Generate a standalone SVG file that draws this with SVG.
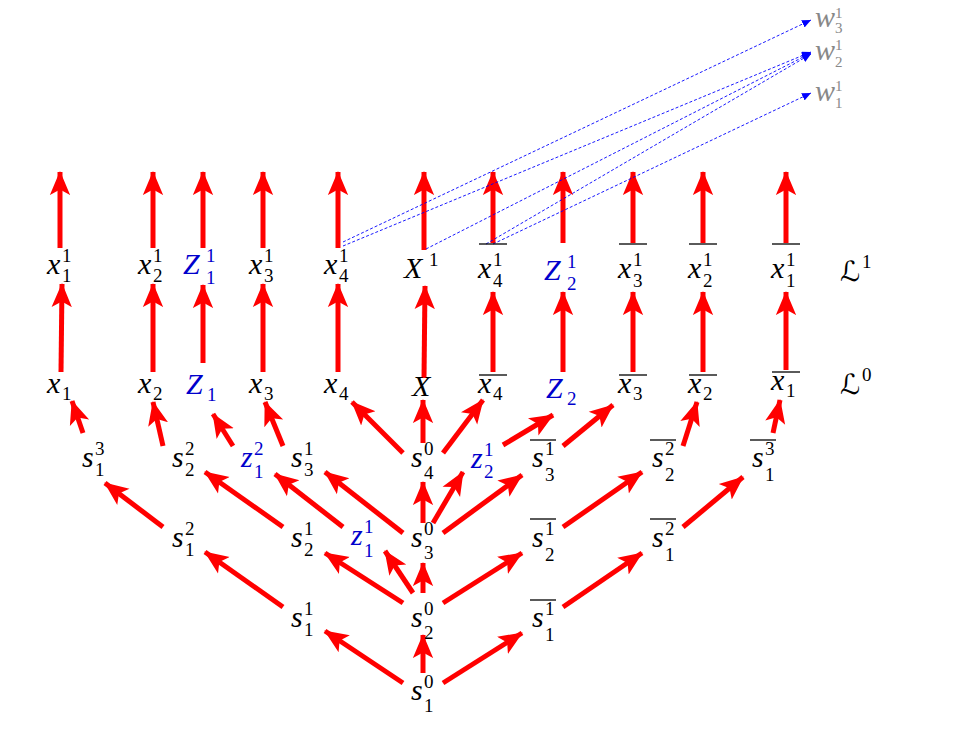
<svg xmlns="http://www.w3.org/2000/svg" width="975" height="737" viewBox="0 0 975 737">
<style>
.m{font-family:"Liberation Serif",serif;font-style:italic;font-size:30px;fill:#000}
.s{font-family:"Liberation Serif",serif;font-size:19px;fill:#000}
.L{font-family:"DejaVu Serif","DejaVu Sans",serif;font-style:italic;font-size:28px;fill:#000}
.ws{font-size:15px}
.b{fill:#0000cc}
.g{fill:#888}
.bar{stroke:#000;stroke-width:1.3}
.r{stroke:#f00;stroke-width:5;fill:none;marker-end:url(#ah)}
.d{stroke:#0000ff;stroke-width:0.9;stroke-dasharray:3,2;fill:none;marker-end:url(#dh)}
</style>
<defs>
<marker id="ah" markerUnits="userSpaceOnUse" markerWidth="24" markerHeight="26" refX="25" refY="11" orient="auto" viewBox="0 0 26 22"><path d="M0,0 L26,11 L0,22 L6,11 Z" fill="#f00"/></marker>
<marker id="dh" markerUnits="userSpaceOnUse" markerWidth="9" markerHeight="8" refX="9" refY="4" orient="auto" viewBox="0 0 9 8"><path d="M0,0 L9,4 L0,8 Z" fill="#0000ff"/></marker>
</defs>
<g id="connectors">
<line class="r" x1="60" y1="248" x2="60" y2="172"/>
<line class="r" x1="153" y1="248" x2="153" y2="172"/>
<line class="r" x1="203" y1="248" x2="203" y2="172"/>
<line class="r" x1="263" y1="248" x2="263" y2="172"/>
<line class="r" x1="338" y1="248" x2="338" y2="172"/>
<line class="r" x1="424" y1="250" x2="424" y2="172"/>
<line class="r" x1="493" y1="243" x2="493" y2="172"/>
<line class="r" x1="563" y1="243" x2="563" y2="172"/>
<line class="r" x1="633" y1="243" x2="633" y2="172"/>
<line class="r" x1="703" y1="243" x2="703" y2="172"/>
<line class="r" x1="786" y1="243" x2="786" y2="172"/>
<line class="r" x1="61" y1="372" x2="62" y2="284"/>
<line class="r" x1="153" y1="372" x2="153" y2="284"/>
<line class="r" x1="203" y1="363" x2="203" y2="285"/>
<line class="r" x1="263" y1="372" x2="263" y2="284"/>
<line class="r" x1="338" y1="372" x2="338" y2="284"/>
<line class="r" x1="424" y1="378" x2="425" y2="286"/>
<line class="r" x1="493" y1="372" x2="493" y2="292"/>
<line class="r" x1="563" y1="372" x2="563" y2="292"/>
<line class="r" x1="633" y1="372" x2="633" y2="292"/>
<line class="r" x1="703" y1="372" x2="703" y2="292"/>
<line class="r" x1="786" y1="370" x2="786" y2="292"/>
<line class="r" x1="83" y1="433" x2="72" y2="401"/>
<line class="r" x1="163" y1="446" x2="153" y2="402"/>
<line class="r" x1="233" y1="446" x2="213" y2="414"/>
<line class="r" x1="283" y1="446" x2="265" y2="402"/>
<line class="r" x1="403" y1="453" x2="352" y2="402"/>
<line class="r" x1="423" y1="443" x2="423" y2="400"/>
<line class="r" x1="443" y1="453" x2="483" y2="400"/>
<line class="r" x1="503" y1="445" x2="553" y2="415"/>
<line class="r" x1="563" y1="446" x2="613" y2="405"/>
<line class="r" x1="683" y1="446" x2="697" y2="402"/>
<line class="r" x1="773" y1="433" x2="780" y2="400"/>
<line class="r" x1="163" y1="527" x2="105" y2="483"/>
<line class="r" x1="283" y1="527" x2="205" y2="472"/>
<line class="r" x1="343" y1="527" x2="275" y2="474"/>
<line class="r" x1="403" y1="533" x2="325" y2="472"/>
<line class="r" x1="423" y1="523" x2="423" y2="482"/>
<line class="r" x1="433" y1="523" x2="463" y2="472"/>
<line class="r" x1="443" y1="533" x2="522" y2="475"/>
<line class="r" x1="563" y1="527" x2="642" y2="472"/>
<line class="r" x1="683" y1="527" x2="743" y2="477"/>
<line class="r" x1="283" y1="607" x2="205" y2="552"/>
<line class="r" x1="403" y1="603" x2="325" y2="553"/>
<line class="r" x1="413" y1="593" x2="385" y2="551"/>
<line class="r" x1="423" y1="593" x2="423" y2="563"/>
<line class="r" x1="443" y1="603" x2="522" y2="553"/>
<line class="r" x1="563" y1="607" x2="642" y2="553"/>
<line class="r" x1="403" y1="683" x2="325" y2="631"/>
<line class="r" x1="423" y1="673" x2="423" y2="635"/>
<line class="r" x1="443" y1="683" x2="522" y2="633"/>
<line class="d" x1="343" y1="242" x2="811" y2="20"/>
<line class="d" x1="343" y1="246" x2="811" y2="52"/>
<line class="d" x1="426" y1="249" x2="811" y2="53"/>
<line class="d" x1="486" y1="244" x2="811" y2="54"/>
<line class="d" x1="493" y1="244" x2="811" y2="93"/>
</g>
<g id="w3"><text class="m g" x="815" y="27">w</text><text class="s ws g" x="835" y="18">1</text><text class="s ws g" x="835" y="33">3</text></g>
<g id="w2"><text class="m g" x="815" y="60">w</text><text class="s ws g" x="835" y="50">1</text><text class="s ws g" x="835" y="67">2</text></g>
<g id="w1"><text class="m g" x="815" y="101">w</text><text class="s ws g" x="835" y="91">1</text><text class="s ws g" x="835" y="108">1</text></g>
<g id="x11"><text class="m" x="47" y="274">x</text><text class="s" x="62" y="262">1</text><text class="s" x="62" y="282">1</text></g>
<g id="x21"><text class="m" x="138" y="274">x</text><text class="s" x="153" y="262">1</text><text class="s" x="153" y="282">2</text></g>
<g id="Z11"><text class="m b" x="183" y="274">Z</text><text class="s b" x="206" y="262">1</text><text class="s b" x="206" y="284">1</text></g>
<g id="x31"><text class="m" x="249" y="274">x</text><text class="s" x="264" y="262">1</text><text class="s" x="264" y="282">3</text></g>
<g id="x41"><text class="m" x="324" y="274">x</text><text class="s" x="339" y="262">1</text><text class="s" x="339" y="282">4</text></g>
<g id="X1"><text class="m" x="404" y="278">X</text><text class="s" x="429" y="266">1</text></g>
<g id="bx41"><line class="bar" x1="479" y1="244" x2="507" y2="244"/><text class="m" x="478" y="278">x</text><text class="s" x="493" y="266">1</text><text class="s" x="493" y="287">4</text></g>
<g id="Z21"><text class="m b" x="544" y="280">Z</text><text class="s b" x="567" y="268">1</text><text class="s b" x="567" y="290">2</text></g>
<g id="bx31"><line class="bar" x1="619" y1="244" x2="647" y2="244"/><text class="m" x="618" y="278">x</text><text class="s" x="633" y="266">1</text><text class="s" x="633" y="287">3</text></g>
<g id="bx21"><line class="bar" x1="689" y1="244" x2="717" y2="244"/><text class="m" x="688" y="278">x</text><text class="s" x="703" y="266">1</text><text class="s" x="703" y="287">2</text></g>
<g id="bx11"><line class="bar" x1="772" y1="244" x2="800" y2="244"/><text class="m" x="771" y="278">x</text><text class="s" x="786" y="266">1</text><text class="s" x="786" y="287">1</text></g>
<g id="L1"><text class="L" x="840" y="281">ℒ</text><text class="s" x="862" y="268">1</text></g>
<g id="x1"><text class="m" x="47" y="393">x</text><text class="s" x="62" y="400">1</text></g>
<g id="x2"><text class="m" x="138" y="393">x</text><text class="s" x="153" y="400">2</text></g>
<g id="Z1"><text class="m b" x="186" y="394">Z</text><text class="s b" x="207" y="401">1</text></g>
<g id="x3"><text class="m" x="249" y="393">x</text><text class="s" x="264" y="400">3</text></g>
<g id="x4"><text class="m" x="324" y="393">x</text><text class="s" x="339" y="400">4</text></g>
<g id="X"><text class="m" x="412" y="396">X</text></g>
<g id="bx4"><line class="bar" x1="479" y1="375" x2="507" y2="375"/><text class="m" x="478" y="393">x</text><text class="s" x="493" y="400">4</text></g>
<g id="Z2"><text class="m b" x="546" y="398">Z</text><text class="s b" x="567" y="405">2</text></g>
<g id="bx3"><line class="bar" x1="619" y1="375" x2="647" y2="375"/><text class="m" x="618" y="393">x</text><text class="s" x="633" y="400">3</text></g>
<g id="bx2"><line class="bar" x1="689" y1="375" x2="717" y2="375"/><text class="m" x="688" y="393">x</text><text class="s" x="703" y="400">2</text></g>
<g id="bx1"><line class="bar" x1="772" y1="372" x2="800" y2="372"/><text class="m" x="771" y="390">x</text><text class="s" x="786" y="397">1</text></g>
<g id="L0"><text class="L" x="840" y="394">ℒ</text><text class="s" x="862" y="381">0</text></g>
<g id="s13"><text class="m" x="82" y="467">s</text><text class="s" x="95" y="455">3</text><text class="s" x="95" y="476">1</text></g>
<g id="s22"><text class="m" x="172" y="467">s</text><text class="s" x="185" y="455">2</text><text class="s" x="185" y="476">2</text></g>
<g id="z12"><text class="m b" x="241" y="467">z</text><text class="s b" x="254" y="455">2</text><text class="s b" x="254" y="478">1</text></g>
<g id="s31"><text class="m" x="291" y="467">s</text><text class="s" x="304" y="455">1</text><text class="s" x="304" y="476">3</text></g>
<g id="s40"><text class="m" x="411" y="467">s</text><text class="s" x="424" y="455">0</text><text class="s" x="424" y="479">4</text></g>
<g id="z21"><text class="m b" x="471" y="468">z</text><text class="s b" x="484" y="456">1</text><text class="s b" x="484" y="478">2</text></g>
<g id="bs31"><line class="bar" x1="530" y1="440" x2="556" y2="440"/><text class="m" x="532" y="467">s</text><text class="s" x="545" y="455">1</text><text class="s" x="545" y="481">3</text></g>
<g id="bs22"><line class="bar" x1="650" y1="440" x2="676" y2="440"/><text class="m" x="652" y="467">s</text><text class="s" x="665" y="455">2</text><text class="s" x="665" y="481">2</text></g>
<g id="bs13"><line class="bar" x1="750" y1="440" x2="776" y2="440"/><text class="m" x="752" y="467">s</text><text class="s" x="765" y="455">3</text><text class="s" x="765" y="481">1</text></g>
<g id="s12"><text class="m" x="172" y="547">s</text><text class="s" x="185" y="535">2</text><text class="s" x="185" y="556">1</text></g>
<g id="s21"><text class="m" x="291" y="547">s</text><text class="s" x="304" y="535">1</text><text class="s" x="304" y="556">2</text></g>
<g id="z11"><text class="m b" x="351" y="545">z</text><text class="s b" x="364" y="533">1</text><text class="s b" x="364" y="557">1</text></g>
<g id="s30"><text class="m" x="411" y="547">s</text><text class="s" x="424" y="535">0</text><text class="s" x="424" y="559">3</text></g>
<g id="bs21"><line class="bar" x1="530" y1="519" x2="556" y2="519"/><text class="m" x="532" y="547">s</text><text class="s" x="545" y="535">1</text><text class="s" x="545" y="561">2</text></g>
<g id="bs12"><line class="bar" x1="650" y1="519" x2="676" y2="519"/><text class="m" x="652" y="547">s</text><text class="s" x="665" y="535">2</text><text class="s" x="665" y="561">1</text></g>
<g id="s11"><text class="m" x="291" y="627">s</text><text class="s" x="304" y="615">1</text><text class="s" x="304" y="636">1</text></g>
<g id="s20"><text class="m" x="411" y="627">s</text><text class="s" x="424" y="615">0</text><text class="s" x="424" y="639">2</text></g>
<g id="bs11"><line class="bar" x1="530" y1="600" x2="556" y2="600"/><text class="m" x="532" y="627">s</text><text class="s" x="545" y="615">1</text><text class="s" x="545" y="641">1</text></g>
<g id="s10"><text class="m" x="411" y="700">s</text><text class="s" x="424" y="688">0</text><text class="s" x="424" y="712">1</text></g>
</svg>
